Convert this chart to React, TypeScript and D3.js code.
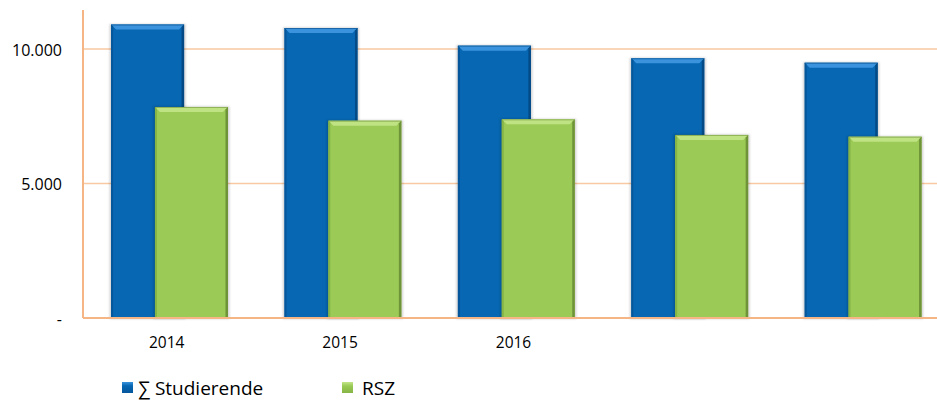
import React from "react";
import * as d3 from "d3";

const categoryLabels = ["2014", "2015", "2016", "", ""];
const studierende = [10910, 10780, 10125, 9655, 9490];
const rsz = [7845, 7335, 7385, 6805, 6740];
const yTicks = [0, 5000, 10000];
const yTickLabels = ["-", "5.000", "10.000"];
const seriesNames = ["∑ Studierende", "RSZ"];

const W = 937;
const H = 401;
const FONT = "'Open Sans', 'DejaVu Sans', sans-serif";

const BLUE = { main: "#0767b2", top: "#3a93dc", side: "#05569a", dark: "#044a86" };
const GREEN = { main: "#9bcb56", top: "#bfe283", side: "#86b445", dark: "#6f9338" };

function Bar({ x, y, w, h, c }: { x: number; y: number; w: number; h: number; c: typeof BLUE }) {
  const b = 5;
  return (
    <g>
      <rect x={x - 1.5} y={y - 0.5} width={w + 3} height={h + 1.5} fill="#000" opacity={0.18} filter="url(#soft)" />
      <rect x={x} y={y} width={w} height={h} fill={c.main} />
      <polygon points={`${x},${y} ${x + w},${y} ${x + w - b},${y + b} ${x + b},${y + b}`} fill={c.top} />
      <polygon points={`${x},${y} ${x + 2},${y + 2} ${x + 2},${y + h} ${x},${y + h}`} fill={c.side} />
      <polygon points={`${x + w},${y} ${x + w - 2.5},${y + 2.5} ${x + w - 2.5},${y + h} ${x + w},${y + h}`} fill={c.dark} />
      <line x1={x} x2={x + w} y1={y + 0.5} y2={y + 0.5} stroke={c.dark} strokeWidth={1} opacity={0.6} />
    </g>
  );
}

export default function App() {
  const plotLeft = 83;
  const bandW = 173.4;
  const idx = categoryLabels.map((_, i) => i);
  const x = d3.scaleBand<number>().domain(idx).range([plotLeft, plotLeft + bandW * idx.length]).padding(0);
  const y = d3.scaleLinear().domain([0, 11450]).range([318, 10]);
  const bw = x.bandwidth();
  const barW = bw * 0.421;
  const blueOff = bw * 0.5 - bw * 0.338;
  const greenOff = bw * 0.5 - bw * 0.085;

  return (
    <svg width={W} height={H} style={{ position: "absolute", left: 0, top: 0, background: "#fff" }}>
      <defs>
        <filter id="soft" x="-20%" y="-20%" width="140%" height="140%">
          <feGaussianBlur stdDeviation="1.2" />
        </filter>
        <linearGradient id="lgBlue" x1="0" y1="0" x2="0" y2="1">
          <stop offset="0" stopColor="#3a93dc" />
          <stop offset="0.35" stopColor="#0767b2" />
          <stop offset="1" stopColor="#05569a" />
        </linearGradient>
        <linearGradient id="lgGreen" x1="0" y1="0" x2="0" y2="1">
          <stop offset="0" stopColor="#c3e58a" />
          <stop offset="0.35" stopColor="#9bcb56" />
          <stop offset="1" stopColor="#86b445" />
        </linearGradient>
      </defs>

      {/* gridlines */}
      {yTicks.filter((t) => t > 0).map((t) => (
        <line key={t} x1={plotLeft} x2={W} y1={y(t)} y2={y(t)} stroke="#f8c9a2" strokeWidth={1.3} />
      ))}

      {/* bars */}
      {idx.map((i) => {
        const x0 = x(i)!;
        return (
          <g key={i}>
            <Bar x={x0 + blueOff} y={y(studierende[i])} w={barW} h={y(0) - y(studierende[i])} c={BLUE} />
            <Bar x={x0 + greenOff} y={y(rsz[i])} w={barW} h={y(0) - y(rsz[i])} c={GREEN} />
          </g>
        );
      })}

      {/* axes */}
      <line x1={plotLeft} x2={plotLeft} y1={y.range()[1]} y2={y(0)} stroke="#f6b585" strokeWidth={2} />
      <line x1={plotLeft} x2={W} y1={y(0)} y2={y(0)} stroke="#f6b585" strokeWidth={2.2} />

      {/* y tick labels */}
      {yTicks.map((t, i) => (
        <text key={t} x={62} y={y(t) + 6.5} textAnchor="end" fontFamily={FONT} fontSize={16} fill="#000">
          {yTickLabels[i]}
        </text>
      ))}

      {/* x labels */}
      {idx.map((i) => (
        <text key={i} x={x(i)! + bw / 2 - 3} y={348} textAnchor="middle" fontFamily={FONT} fontSize={15.5} fill="#000">
          {categoryLabels[i]}
        </text>
      ))}

      {/* legend */}
      <rect x={122} y={382} width={11} height={11} fill="url(#lgBlue)" />
      <text x={138} y={395} fontFamily={FONT} fontSize={19} fill="#000">{seriesNames[0]}</text>
      <rect x={342} y={382} width={11} height={11} fill="url(#lgGreen)" />
      <text x={362} y={395} fontFamily={FONT} fontSize={19} fill="#000">{seriesNames[1]}</text>
    </svg>
  );
}
